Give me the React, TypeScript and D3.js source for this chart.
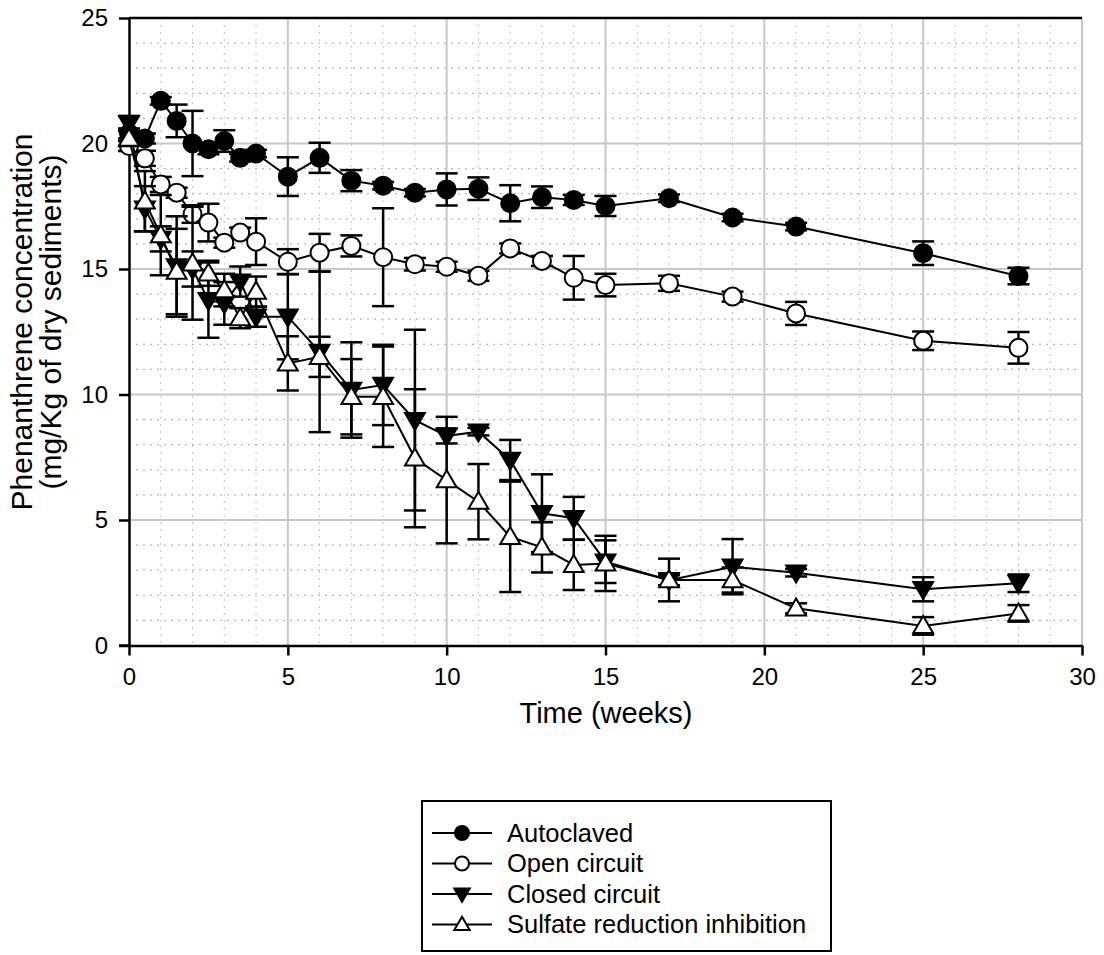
import React, { useEffect, useRef } from "react";
import * as d3 from "d3";

const width = 1104;
const height = 955;

const weeks = [0, 0.5, 1, 1.5, 2, 2.5, 3, 3.5, 4, 5, 6, 7, 8, 9, 10, 11, 12, 13, 14, 15, 17, 19, 21, 25, 28];

const autoclaved = [20.4, 20.2, 21.7, 20.9, 20.0, 19.77, 20.1, 19.43, 19.6, 18.68, 19.43, 18.52, 18.32, 18.04, 18.17, 18.2, 17.62, 17.86, 17.75, 17.51, 17.82, 17.05, 16.69, 15.63, 14.72];
const autoclavedErr = [0.2, 0.2, 0.15, 0.65, 1.3, 0.2, 0.43, 0.15, 0.15, 0.77, 0.6, 0.42, 0.15, 0.15, 0.64, 0.45, 0.72, 0.43, 0.2, 0.4, 0.15, 0.15, 0.15, 0.47, 0.33];

const openCircuit = [19.9, 19.41, 18.37, 18.04, 17.19, 16.85, 16.05, 16.45, 16.09, 15.29, 15.65, 15.92, 15.47, 15.19, 15.09, 14.73, 15.82, 15.32, 14.65, 14.36, 14.43, 13.9, 13.23, 12.14, 11.86];
const openCircuitErr = [0.2, 0.3, 0.3, 0.2, 0.35, 0.75, 0.2, 0.2, 0.93, 0.5, 0.75, 0.42, 1.95, 0.25, 0.2, 0.2, 0.2, 0.2, 0.87, 0.45, 0.3, 0.2, 0.46, 0.37, 0.63];

const closedCircuit = [20.8, 17.4, 16.2, 15.1, 15.0, 13.76, 13.63, 14.5, 13.1, 13.1, 11.7, 10.18, 10.38, 8.98, 8.35, 8.52, 7.39, 5.27, 5.07, 3.34, 2.6, 3.14, 2.9, 2.24, 2.48];
const closedCircuitErr = [0.3, 0.9, 0.5, 2.0, 0.7, 1.5, 0.85, 0.6, 0.4, 1.7, 3.2, 1.9, 1.6, 3.6, 0.3, 0.15, 0.8, 1.55, 0.85, 0.85, 0.2, 1.1, 0.15, 0.48, 0.35];

const sulfateInhib = [20.2, 17.7, 16.35, 14.9, 15.23, 14.83, 14.16, 13.04, 14.1, 11.24, 11.5, 9.91, 9.91, 7.46, 6.59, 5.73, 4.33, 3.91, 3.21, 3.27, 2.61, 2.61, 1.48, 0.78, 1.28];
const sulfateInhibErr = [0.3, 1.2, 1.6, 1.7, 2.25, 0.5, 0.65, 0.4, 0.6, 1.08, 0.8, 1.5, 2.0, 2.75, 2.52, 1.5, 2.2, 1.0, 1.0, 1.1, 0.85, 0.5, 0.2, 0.35, 0.33];

const xTicks = [0, 5, 10, 15, 20, 25, 30];
const yTicks = [0, 5, 10, 15, 20, 25];

const seriesNames = ["Autoclaved", "Open circuit", "Closed circuit", "Sulfate reduction inhibition"];
const seriesMeans = [autoclaved, openCircuit, closedCircuit, sulfateInhib];
const seriesErrs = [autoclavedErr, openCircuitErr, closedCircuitErr, sulfateInhibErr];
const seriesMarkers = ["circleFilled", "circleOpen", "triDownFilled", "triUpOpen"];

const FONT = "'Liberation Sans', Arial, sans-serif";

// marker path centered on 0,0
const markerPath = (kind: string, r: number) => {
  if (kind.startsWith("circle")) {
    return d3.symbol(d3.symbolCircle, Math.PI * r * r)();
  }
  const h = r * 1.75;
  const w = r * 1.1;
  if (kind === "triDownFilled") {
    return `M${-w},${-h / 2.2}L${w},${-h / 2.2}L0,${h / 1.6}Z`;
  }
  return `M${-w},${h / 2.2}L${w},${h / 2.2}L0,${-h / 1.6}Z`;
};

const App = () => {
  const ref = useRef<SVGSVGElement>(null);

  useEffect(() => {
    const svg = d3.select(ref.current);
    svg.selectAll("*").remove();

    const x = d3.scaleLinear().domain([0, 30]).range([129, 1082]);
    const y = d3.scaleLinear().domain([0, 25]).range([645.5, 18]);

    const grid = svg.append("g");
    // minor dotted grid
    grid
      .selectAll("line.mx")
      .data(d3.range(1, 30).filter((v) => v % 5 !== 0))
      .join("line")
      .attr("x1", (d) => x(d))
      .attr("x2", (d) => x(d))
      .attr("y1", y(25))
      .attr("y2", y(0))
      .attr("stroke", "#c4c4c4")
      .attr("stroke-width", 1)
      .attr("stroke-dasharray", "2,5");
    grid
      .selectAll("line.my")
      .data(d3.range(1, 25).filter((v) => v % 5 !== 0))
      .join("line")
      .attr("x1", x(0))
      .attr("x2", x(30))
      .attr("y1", (d) => y(d))
      .attr("y2", (d) => y(d))
      .attr("stroke", "#b8b8b8")
      .attr("stroke-width", 1.2)
      .attr("stroke-dasharray", "2,5");
    // major solid grid
    grid
      .append("g")
      .selectAll("line")
      .data(xTicks.slice(1))
      .join("line")
      .attr("x1", (d) => x(d))
      .attr("x2", (d) => x(d))
      .attr("y1", y(25))
      .attr("y2", y(0))
      .attr("stroke", "#c8c8c8")
      .attr("stroke-width", 2);
    grid
      .append("g")
      .selectAll("line")
      .data(yTicks.slice(1, -1))
      .join("line")
      .attr("x1", x(0))
      .attr("x2", x(30))
      .attr("y1", (d) => y(d))
      .attr("y2", (d) => y(d))
      .attr("stroke", "#c8c8c8")
      .attr("stroke-width", 2);

    // axes
    const xAxis = svg
      .append("g")
      .attr("transform", `translate(0,${y(0)})`)
      .call(d3.axisBottom(x).tickValues(xTicks).tickSize(10).tickPadding(12).tickSizeOuter(0));
    const yAxis = svg
      .append("g")
      .attr("transform", `translate(${x(0)},0)`)
      .call(d3.axisLeft(y).tickValues(yTicks).tickSize(10).tickPadding(11).tickSizeOuter(0));
    [xAxis, yAxis].forEach((a) => {
      a.select(".domain").attr("stroke", "#000").attr("stroke-width", 2.5);
      a.selectAll(".tick line").attr("stroke", "#000").attr("stroke-width", 2.5);
      a.selectAll(".tick text").attr("font-family", FONT).attr("font-size", 24).attr("fill", "#000");
    });
    svg
      .append("line")
      .attr("x1", x(0) - 10)
      .attr("x2", x(0))
      .attr("y1", y(0))
      .attr("y2", y(0))
      .attr("stroke", "#000")
      .attr("stroke-width", 2.5);
    // top frame line
    svg
      .append("line")
      .attr("x1", x(0))
      .attr("x2", x(30))
      .attr("y1", y(25))
      .attr("y2", y(25))
      .attr("stroke", "#000")
      .attr("stroke-width", 2.5);

    // series
    const line = d3
      .line<number>()
      .x((_, i) => x(weeks[i]))
      .y((d) => y(d));

    seriesMeans.forEach((means, si) => {
      const errs = seriesErrs[si];
      const kind = seriesMarkers[si];
      const g = svg.append("g");
      const pts = means.map((m, i) => ({ t: weeks[i], m, e: errs[i] }));
      const eb = g.append("g").attr("stroke", "#000").attr("stroke-width", 2.5);
      eb.selectAll("line.v")
        .data(pts)
        .join("line")
        .attr("x1", (d) => x(d.t))
        .attr("x2", (d) => x(d.t))
        .attr("y1", (d) => y(d.m + d.e))
        .attr("y2", (d) => y(d.m - d.e));
      [1, -1].forEach((s) => {
        eb.append("g")
          .selectAll("line")
          .data(pts)
          .join("line")
          .attr("x1", (d) => x(d.t) - 11)
          .attr("x2", (d) => x(d.t) + 11)
          .attr("y1", (d) => y(d.m + s * d.e))
          .attr("y2", (d) => y(d.m + s * d.e));
      });
      g.append("path")
        .attr("d", line(means))
        .attr("fill", "none")
        .attr("stroke", "#000")
        .attr("stroke-width", 2);
      g.selectAll("path.mk")
        .data(pts)
        .join("path")
        .attr("class", "mk")
        .attr("d", markerPath(kind, 9))
        .attr("transform", (d) => `translate(${x(d.t)},${y(d.m)})`)
        .attr("fill", kind.includes("Filled") ? "#000" : "#fff")
        .attr("stroke", "#000")
        .attr("stroke-width", 2);
    });

    // axis titles
    svg
      .append("text")
      .attr("x", 606)
      .attr("y", 723)
      .attr("text-anchor", "middle")
      .attr("font-family", FONT)
      .attr("font-size", 29)
      .text("Time (weeks)");
    const yTitle = svg
      .append("text")
      .attr("transform", `translate(0,322) rotate(-90)`)
      .attr("text-anchor", "middle")
      .attr("font-family", FONT)
      .attr("font-size", 30);
    yTitle.append("tspan").attr("x", 0).attr("y", 32).text("Phenanthrene concentration");
    yTitle.append("tspan").attr("x", 0).attr("y", 61).text("(mg/Kg of dry sediments)");

    // legend
    const lg = svg.append("g");
    lg.append("rect")
      .attr("x", 422)
      .attr("y", 801)
      .attr("width", 409)
      .attr("height", 150)
      .attr("fill", "#fff")
      .attr("stroke", "#000")
      .attr("stroke-width", 2);
    const rows = lg
      .selectAll("g.row")
      .data(seriesNames)
      .join("g")
      .attr("transform", (_, i) => `translate(0,${833 + i * 30.5})`);
    rows
      .append("line")
      .attr("x1", 432)
      .attr("x2", 492)
      .attr("stroke", "#000")
      .attr("stroke-width", 2);
    rows
      .append("path")
      .attr("d", (_, i) => markerPath(seriesMarkers[i], 7))
      .attr("transform", "translate(462,0)")
      .attr("fill", (_, i) => (seriesMarkers[i].includes("Filled") ? "#000" : "#fff"))
      .attr("stroke", "#000")
      .attr("stroke-width", 2);
    rows
      .append("text")
      .attr("x", 507)
      .attr("dy", "0.35em")
      .attr("font-family", FONT)
      .attr("font-size", 25.5)
      .text((d) => d);
  }, []);

  return (
    <svg
      ref={ref}
      width={width}
      height={height}
      viewBox={`0 0 ${width} ${height}`}
      style={{ position: "absolute", left: 0, top: 0, background: "#fff" }}></svg>
  );
};

export default App;
